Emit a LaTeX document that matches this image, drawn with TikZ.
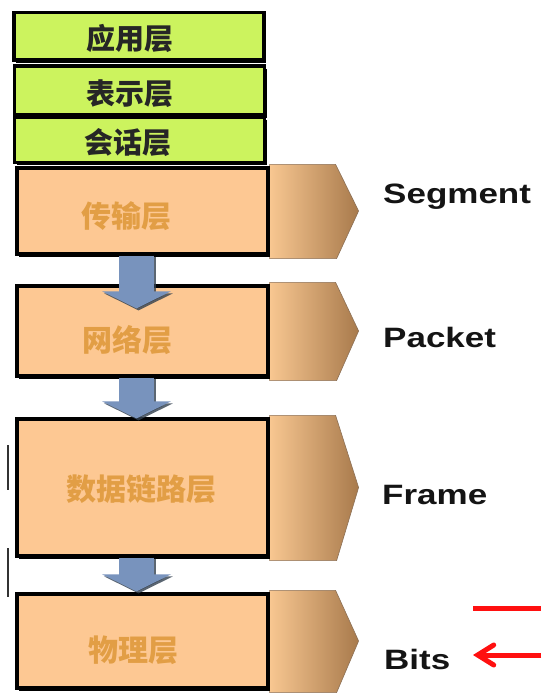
\documentclass[tikz,border=0pt]{standalone}
\usepackage{fontspec}
\newfontfamily\cjkfont{Noto Sans CJK SC}
\newfontfamily\latinfont[FakeStretch=1.25]{Liberation Sans}
\usetikzlibrary{arrows.meta,shadows,calc}
\definecolor{greenfill}{HTML}{CCF35E}
\definecolor{peach}{HTML}{FDC893}
\definecolor{peachtext}{HTML}{E29E45}
\definecolor{tabL}{HTML}{F8C791}
\definecolor{tabR}{HTML}{A87A4C}
\definecolor{tabedge}{HTML}{8C7056}
\definecolor{bluearrow}{HTML}{7893BD}
\definecolor{blueshadow}{HTML}{33404F}
\definecolor{redarrow}{HTML}{FF1010}
\pgfdeclarelayer{canvasbg}
\pgfdeclarelayer{back}
\pgfsetlayers{canvasbg,back,main}
\tikzset{
  layerbox/.style={rectangle, draw=black, line width=3.2pt, inner sep=0pt,
    general shadow={fill=black, shadow xshift=2.4pt, shadow yshift=-2.6pt}},
  greenbox/.style={layerbox, fill=greenfill, minimum width=250pt},
  peachbox/.style={layerbox, fill=peach, minimum width=251pt},
  greentext/.style={font=\cjkfont\bfseries\fontsize{29}{30}\selectfont, text=black!85, inner sep=0pt},
  peachtextstyle/.style={font=\cjkfont\bfseries\fontsize{30}{31}\selectfont, text=peachtext, inner sep=0pt},
  pdulabel/.style={font=\latinfont\bfseries\fontsize{28}{30}\selectfont, text=black!92, inner sep=0pt, anchor=base west},
  tabshape/.style={left color=tabL, right color=tabR, draw=tabedge, line width=0.6pt},
  downarrow/.style={line width=35pt, draw=bluearrow, -{Triangle[width=68pt,length=17pt]}},
  downshadow/.style={line width=35pt, draw=blueshadow, opacity=0.8, -{Triangle[width=68pt,length=17pt]}},
  redline/.style={draw=redarrow, line width=5pt},
  strayline/.style={draw=black!80, line width=2pt}
}
\newcommand{\pdutab}[1]{%
  \begin{pgfonlayer}{back}
  \path[tabshape] ([yshift=2pt]#1.north east) -- ([xshift=66pt,yshift=2pt]#1.north east)
    -- ([xshift=89pt]#1.east) -- ([xshift=67pt,yshift=-3pt]#1.south east)
    -- ([yshift=-3pt]#1.south east) -- cycle;
  \end{pgfonlayer}}
\begin{document}
\begin{tikzpicture}[x=1pt,y=-1pt]
\useasboundingbox (0,0) rectangle (541,695);
\begin{pgfonlayer}{canvasbg}
\fill[white] (0,0) rectangle (541,695);
\end{pgfonlayer}

% green upper layers
\node[greenbox, minimum height=47.5pt] (app) at (139,36.3) {};
\node[greenbox, minimum height=49pt] (pres) at (139.5,90.5) {};
\node[greenbox, minimum height=45pt] (sess) at (139.5,140) {};
\node[greentext] (appt) at (130,38.5) {应用层};
\node[greentext] (prest) at (130,94) {表示层};
\node[greentext] (sesst) at (128,142.5) {会话层};

% peach lower layers
\node[peachbox, minimum height=86pt] (trans) at (142.5,211) {};
\node[peachbox, minimum height=90pt] (net) at (142.5,331) {};
\node[peachbox, minimum height=137pt] (link) at (142.5,487.5) {};
\node[peachbox, minimum height=94pt] (phys) at (142.5,641) {};
\pdutab{trans}
\pdutab{net}
\pdutab{link}
\pdutab{phys}
\node[peachtextstyle] (transt) at (126,216) {传输层};
\node[peachtextstyle] (nett) at (127,340) {网络层};
\node[peachtextstyle] (linkt) at (141,489) {数据链路层};
\node[peachtextstyle] (physt) at (133,650) {物理层};

% blue down arrows
\draw[downshadow] ([xshift=-4pt,yshift=-1pt]trans.south) -- ([xshift=-4pt,yshift=-26pt]net.north);
\draw[downarrow] ([xshift=-6pt]trans.south) -- ([xshift=-6pt,yshift=-24pt]net.north);
\draw[downshadow] ([xshift=-4pt,yshift=-1pt]net.south) -- ([xshift=-4pt,yshift=-3pt]link.north);
\draw[downarrow] ([xshift=-6pt]net.south) -- ([xshift=-6pt,yshift=-1pt]link.north);
\draw[downshadow] ([xshift=-4pt,yshift=-1pt]link.south) -- ([xshift=-4pt,yshift=-1pt]phys.north);
\draw[downarrow] ([xshift=-6pt]link.south) -- ([xshift=-6pt,yshift=1pt]phys.north);

% PDU labels
\node[pdulabel] (seg) at (383,203) {Segment};
\node[pdulabel] (pkt) at (383,347) {Packet};
\node[pdulabel] (frm) at (382,504) {Frame};
\node[pdulabel] (bits) at (384,669) {Bits};

% red marks
\coordinate (ra) at (473,608.5);
\coordinate (rb) at (541,608.5);
\draw[redline] (ra) -- (rb);
\coordinate (rc) at (541,655);
\coordinate (rd) at (473,655);
\draw[redline, -{Straight Barb[length=16pt,width=20pt,line cap=round]}] (rc) -- (rd);

% stray marks at left edge
\coordinate (s1) at (8,445);
\coordinate (s2) at (8,490);
\coordinate (s3) at (8,548);
\coordinate (s4) at (8,597);
\draw[strayline] (s1) -- (s2);
\draw[strayline] (s3) -- (s4);
\end{tikzpicture}
\end{document}
